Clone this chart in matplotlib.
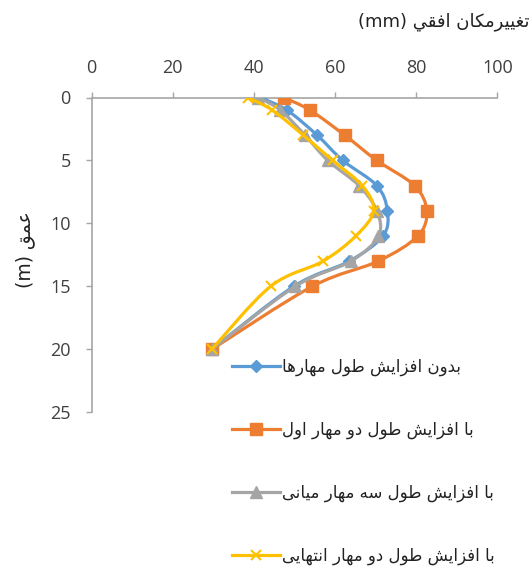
import matplotlib
matplotlib.use("Agg")
import matplotlib.pyplot as plt
from matplotlib.path import Path
from matplotlib.patches import PathPatch
from matplotlib.lines import Line2D
from matplotlib import font_manager, ft2font
import numpy as np

# ---------------- data ----------------
depth = [0, 1, 3, 5, 7, 9, 11, 13, 15, 20]
blue = [41.5, 48.1, 55.6, 61.9, 70.3, 72.9, 71.8, 63.5, 49.8, 29.6]
orange = [47.3, 53.8, 62.4, 70.3, 79.6, 82.6, 80.4, 70.6, 54.4, 29.6]
gray = [41.1, 46.5, 52.6, 58.2, 65.9, 70.3, 70.7, 63.9, 50.2, 29.6]
yellow = [38.5, 44.5, 52.2, 59.4, 66.7, 69.5, 65.1, 57.0, 44.1, 29.6]

x_ticks = [0, 20, 40, 60, 80, 100]
y_ticks = [0, 5, 10, 15, 20, 25]

title_text = "تغییرمکان افقي (mm)"
ylabel_text = "عمق (m)"
labels = [
    "بدون افزایش طول مهارها",
    "با افزایش طول دو مهار اول",
    "با افزایش طول سه مهار میانی",
    "با افزایش طول دو مهار انتهایی",
]

# ---------------- Arabic-script shaping (presentation forms + visual order) ----------------
FORMS = {
    '\u0627': ('\uFE8D', '\uFE8E', None, None),
    '\u0628': ('\uFE8F', '\uFE90', '\uFE91', '\uFE92'),
    '\u062A': ('\uFE95', '\uFE96', '\uFE97', '\uFE98'),
    '\u062F': ('\uFEA9', '\uFEAA', None, None),
    '\u0631': ('\uFEAD', '\uFEAE', None, None),
    '\u0632': ('\uFEAF', '\uFEB0', None, None),
    '\u0633': ('\uFEB1', '\uFEB2', '\uFEB3', '\uFEB4'),
    '\u0634': ('\uFEB5', '\uFEB6', '\uFEB7', '\uFEB8'),
    '\u0637': ('\uFEC1', '\uFEC2', '\uFEC3', '\uFEC4'),
    '\u0639': ('\uFEC9', '\uFECA', '\uFECB', '\uFECC'),
    '\u063A': ('\uFECD', '\uFECE', '\uFECF', '\uFED0'),
    '\u0641': ('\uFED1', '\uFED2', '\uFED3', '\uFED4'),
    '\u0642': ('\uFED5', '\uFED6', '\uFED7', '\uFED8'),
    '\u0643': ('\uFED9', '\uFEDA', '\uFEDB', '\uFEDC'),
    '\u0644': ('\uFEDD', '\uFEDE', '\uFEDF', '\uFEE0'),
    '\u0645': ('\uFEE1', '\uFEE2', '\uFEE3', '\uFEE4'),
    '\u0646': ('\uFEE5', '\uFEE6', '\uFEE7', '\uFEE8'),
    '\u0647': ('\uFEE9', '\uFEEA', '\uFEEB', '\uFEEC'),
    '\u0648': ('\uFEED', '\uFEEE', None, None),
    '\u064A': ('\uFEF1', '\uFEF2', '\uFEF3', '\uFEF4'),
    '\u06A9': ('\uFB8E', '\uFB8F', '\uFB90', '\uFB91'),
    '\u06CC': ('\uFBFC', '\uFBFD', '\uFBFE', '\uFBFF'),
}

AR_FONT = "DejaVu Sans"
try:
    _path = font_manager.findfont(AR_FONT)
    _cmap = ft2font.FT2Font(_path).get_charmap()
except Exception:
    _cmap = {}


def _avail(ch):
    return (not _cmap) or (ord(ch) in _cmap)


def shape_run(s):
    out = []
    n = len(s)
    for i, ch in enumerate(s):
        if ch not in FORMS:
            out.append(ch)
            continue
        prev = s[i - 1] if i > 0 else None
        nxt = s[i + 1] if i + 1 < n else None
        jp = prev in FORMS and FORMS[prev][2] is not None
        jn = nxt in FORMS and FORMS[ch][2] is not None
        iso, fin, ini, med = FORMS[ch]
        if jp and jn:
            g = med
        elif jp:
            g = fin
        elif jn:
            g = ini
        else:
            g = iso
        out.append(g if _avail(g) else ch)
    return out


def rtl(s):
    """Shape and reorder an RTL paragraph with embedded LTR runs for display."""
    runs = []
    cur, cur_ltr = "", None
    for ch in s:
        is_ltr = ch.isascii() and (ch.isalnum() or ch in "()")
        if cur_ltr is None or is_ltr == cur_ltr or ch == " ":
            if cur_ltr is None and ch != " ":
                cur_ltr = is_ltr
            cur += ch
        else:
            runs.append((cur, cur_ltr))
            cur, cur_ltr = ch, is_ltr
    if cur:
        runs.append((cur, cur_ltr))
    vis = []
    for text, is_ltr in runs:
        text = text.strip()
        if is_ltr:
            vis.append(text)
        else:
            vis.append("".join(reversed(shape_run(text))))
    return " ".join(v for v in reversed(vis) if v)


# ---------------- figure ----------------
W, H = 531, 575
fig = plt.figure(figsize=(W / 100, H / 100), dpi=100)
ax = fig.add_axes([91.7 / W, 1 - 412.3 / H, (497.3 - 91.7) / W, (412.3 - 97.5) / H])

ax.set_xlim(0, 100)
ax.set_ylim(25, 0)

tick_color = "#404040"
spine_color = "#a6a6a6"
num_font = "Open Sans"

ax.xaxis.tick_top()
ax.set_xticks(x_ticks)
ax.set_yticks(y_ticks)
ax.set_xticklabels([str(v) for v in x_ticks], fontsize=13, color=tick_color, family=num_font)
ax.set_yticklabels([str(v) for v in y_ticks], fontsize=13, color=tick_color, family=num_font)
ax.tick_params(axis="x", direction="out", length=4.5, width=1.0, color=spine_color, pad=10)
ax.tick_params(axis="y", direction="out", length=4, width=1.0, color=spine_color, pad=11)
for side in ["right", "bottom"]:
    ax.spines[side].set_visible(False)
for side in ["top", "left"]:
    ax.spines[side].set_color(spine_color)
    ax.spines[side].set_linewidth(1.2)


def smooth_path(xs, ys):
    pts = np.column_stack([xs, ys]).astype(float)
    n = len(pts)
    verts = [pts[0]]
    codes = [Path.MOVETO]
    for i in range(n - 1):
        p0 = pts[i - 1] if i > 0 else pts[i]
        p1 = pts[i]
        p2 = pts[i + 1]
        p3 = pts[i + 2] if i + 2 < n else pts[i + 1]
        c1 = p1 + (p2 - p0) / 6.0
        c2 = p2 - (p3 - p1) / 6.0
        verts += [c1, c2, p2]
        codes += [Path.CURVE4] * 3
    return Path(verts, codes)


series = [
    (blue, "#5B9BD5", "D", 6.5, labels[0]),
    (orange, "#ED7D31", "s", 8, labels[1]),
    (gray, "#A5A5A5", "^", 8, labels[2]),
    (yellow, "#FFC000", "x", 7, labels[3]),
]

handles = []
for k, (vals, col, mk, ms, lab) in enumerate(series):
    patch = PathPatch(smooth_path(vals, depth), facecolor="none", edgecolor=col,
                      linewidth=2.3, zorder=3 + k, capstyle="round", joinstyle="round")
    ax.add_patch(patch)
    ax.plot(vals, depth, linestyle="none", marker=mk, markersize=ms, color=col,
            markeredgecolor=col, markeredgewidth=1.5 if mk == "x" else 1.0, zorder=3 + k)
    handles.append(Line2D([], [], color=col, linewidth=2.3, marker=mk, markersize=ms,
                          markeredgecolor=col, markeredgewidth=1.5 if mk == "x" else 1.0))

leg_fs = 12
leg = fig.legend(handles, [rtl(l) for l in labels], loc="upper left",
                 bbox_to_anchor=(232 / W, 1 - 358 / H), frameon=False,
                 prop={"family": AR_FONT, "size": leg_fs}, handlelength=2.85,
                 handletextpad=0.12, labelspacing=2.68, borderaxespad=0, borderpad=0)
for t in leg.get_texts():
    t.set_color("#222222")

fig.text(529 / W, 1 - 22 / H, rtl(title_text), ha="right", va="center",
         fontsize=13, family=AR_FONT, color="#222222")
fig.text(25 / W, 1 - 250 / H, rtl(ylabel_text), ha="center", va="center",
         rotation=90, fontsize=13.5, family=AR_FONT, color="#222222")

fig.savefig("out.png", dpi=100)
